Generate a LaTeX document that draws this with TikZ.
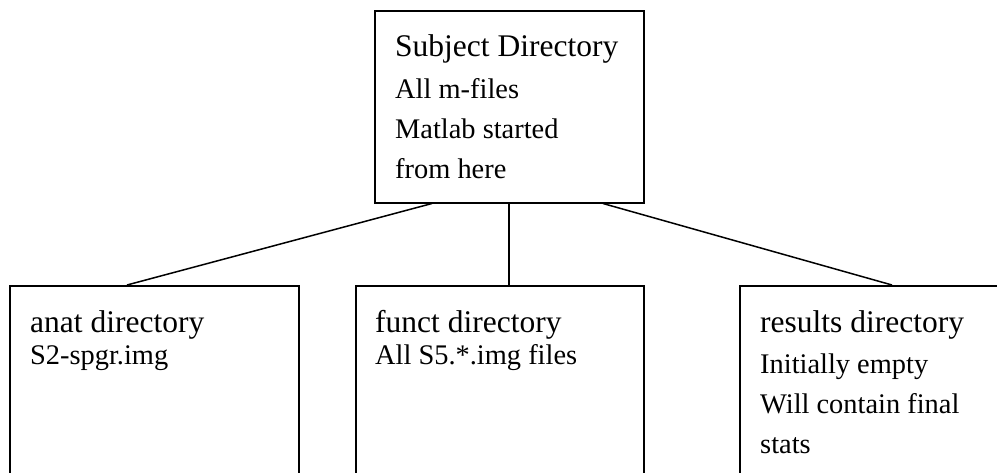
\documentclass[tikz,border=0pt]{standalone}
\usepackage{fontspec}
\setmainfont{Liberation Serif}
\usetikzlibrary{calc}
\begin{document}
\begin{tikzpicture}[x=1pt,y=-1pt,
  dirbox/.style={draw, line width=1.5pt, rectangle, inner sep=0pt, anchor=north west},
  headtext/.style={anchor=base west, inner sep=0pt, font=\fontsize{31.5}{38}\selectfont},
  bodytext/.style={anchor=base west, inner sep=0pt, font=\fontsize{28.4}{34}\selectfont},
  link/.style={line width=1.5pt}]
\useasboundingbox[fill=white] (0,0) rectangle (997,472);
\clip (0,0) rectangle (997,472);
% boxes
\node[dirbox, minimum width=269pt, minimum height=192pt] (top) at (374,10) {};
\node[dirbox, minimum width=289pt, minimum height=260pt] (anat) at (9,285) {};
\node[dirbox, minimum width=288pt, minimum height=260pt] (funct) at (355,285) {};
\node[dirbox, minimum width=289pt, minimum height=260pt] (res) at (739,285) {};
% texts
\node[headtext] (t0) at (395,56) {Subject Directory};
\node[bodytext] (t1) at (395,98) {All m-files};
\node[bodytext] (t2) at (395,138) {Matlab started};
\node[bodytext] (t3) at (395,178) {from here};
\node[headtext] (a0) at (30,332) {anat directory};
\node[bodytext] (a1) at (30,364) {S2-spgr.img};
\node[headtext] (f0) at (375,332) {funct directory};
\node[bodytext] (f1) at (375,364) {All S5.*.img files};
\node[headtext] (r0) at (760,332) {results directory};
\node[bodytext] (r1) at (760,373) {Initially empty};
\node[bodytext] (r2) at (760,413) {Will contain final};
\node[bodytext] (r3) at (760,453) {stats};
% connectors
\draw[link] ($(top.south west)+(58,0)$) -- ($(anat.north west)+(118,0)$);
\draw[link] ($(top.south west)+(135,0)$) -- ($(funct.north west)+(154,0)$);
\draw[link] ($(top.south west)+(229,0)$) -- ($(res.north west)+(153,0)$);
\end{tikzpicture}
\end{document}
